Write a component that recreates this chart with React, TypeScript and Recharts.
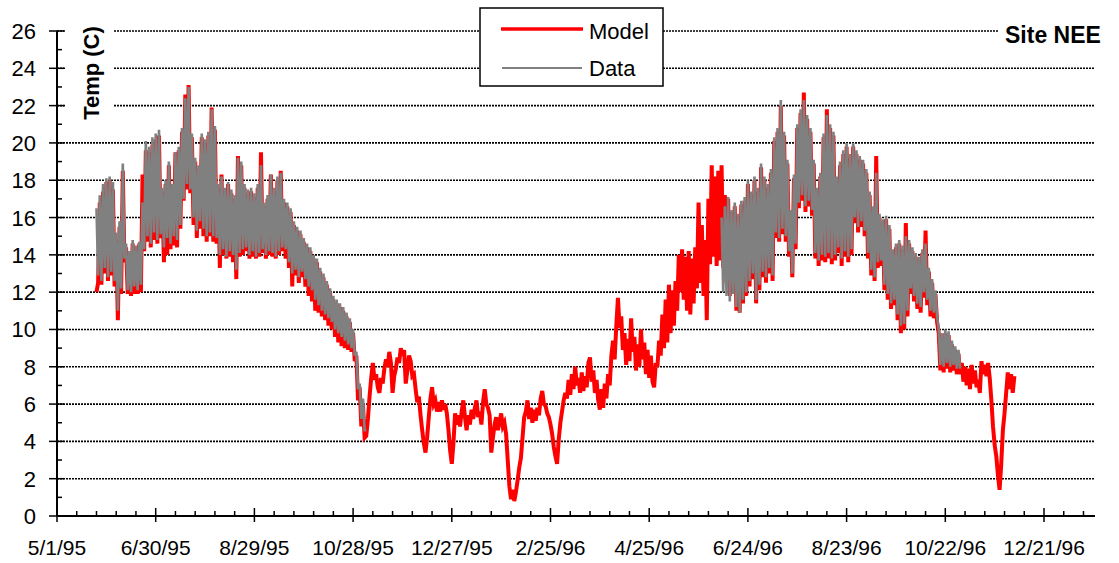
import { LineChart, Line, XAxis, YAxis, CartesianGrid } from 'recharts'

const FONT = "'Liberation Sans', Arial, sans-serif"

// x axis: days after 5/1/95
const dateLabels = ['5/1/95', '6/30/95', '8/29/95', '10/28/95', '12/27/95', '2/25/96', '4/25/96', '6/24/96', '8/23/96', '10/22/96', '12/21/96']
const labelDays = [0, 60, 120, 180, 240, 300, 360, 420, 480, 540, 600]
const tickDays = Array.from({ length: 53 }, (_, i) => i * 12)
const yTicks = Array.from({ length: 27 }, (_, i) => i)
const gridValues = [2, 4, 6, 8, 10, 12, 14, 16, 18, 20, 22, 24, 26]

// model, days 24..188
const model95Start = 24
const model95 = [
  12.0, 12.5, 16.8, 12.4, 17.4, 13.0, 17.9, 12.6, 18.0, 12.9, 17.5, 12.3,
  14.8, 10.5, 15.5, 11.9, 18.5, 13.6,
  14.4, 11.9, 14.0, 11.8, 14.6, 11.9, 14.4, 11.9, 14.6, 12.0,
  18.3, 14.2, 19.6, 14.7, 19.5, 14.4, 19.9, 14.8, 20.2, 14.6, 20.4, 14.9,
  17.4, 13.6, 17.8, 14.0, 18.8, 14.3, 17.7, 14.5, 19.5, 14.4, 19.6, 15.4,
  20.6, 16.9, 22.6, 17.5, 23.1, 17.3,
  20.3, 15.6, 19.0, 14.9, 18.6, 15.4, 20.3, 15.0, 20.0, 14.7,
  20.4, 15.0, 21.9, 14.7, 20.7, 14.6,
  17.6, 13.3, 18.3, 14.0, 17.4, 13.8, 17.8, 13.9, 17.3, 13.6, 17.0, 12.7,
  19.3, 13.9, 18.8, 14.0, 17.6, 14.2, 17.3, 13.8,
  17.4, 13.9, 17.1, 13.8, 17.6, 13.9, 19.5, 14.1,
  16.6, 13.8, 17.0, 14.0, 18.3, 13.9, 17.4, 13.8, 18.0, 14.0, 18.5, 14.2,
  16.8, 13.8, 16.6, 13.3, 16.3, 12.3,
  15.6, 12.9, 15.3, 12.5, 15.1, 12.8, 14.7, 12.3, 14.4, 11.8, 14.2, 11.5,
  13.8, 11.0, 13.6, 10.9, 13.1, 10.7, 12.8, 10.5, 12.4, 10.2, 12.0, 10.0,
  11.6, 9.6, 11.4, 9.3, 11.2, 9.1, 11.0, 9.0, 10.7, 8.9, 10.4, 8.8,
  9.8, 8.3, 8.6, 6.2, 6.9, 4.8, 6.0, 4.2, 4.3,
]

// model, days 189..403
const modelWinter = [
  5.2, 6.4, 7.4, 8.2, 7.3, 7.6, 6.9, 6.6, 7.4, 7.1,
  7.9, 8.4, 8.0, 8.8, 8.2, 6.6, 7.5, 7.9, 8.5, 8.2,
  9.0, 8.6, 8.9, 7.1, 7.8, 8.6, 8.3, 7.5, 7.6, 6.8,
  6.1, 6.4, 5.4, 4.6, 3.9, 3.4, 4.2, 5.3, 6.3, 6.9,
  6.0, 6.2, 5.6, 6.1, 5.6, 6.2, 5.7, 6.0, 5.5, 4.6,
  3.5, 2.8, 3.9, 5.5, 4.9, 5.4, 4.8, 5.6, 6.2, 5.3,
  4.6, 5.4, 4.9, 5.7, 5.2, 5.8, 6.2, 5.3, 5.6, 4.9,
  6.1, 6.8, 6.0, 5.8, 5.4, 3.4, 4.2, 4.9, 5.3, 4.6,
  5.0, 5.5, 4.8, 5.0, 4.4, 3.0, 1.6, 0.9, 1.4, 0.8,
  1.3, 1.9, 2.6, 3.1, 4.2, 5.3, 5.6, 6.2, 5.2, 5.8,
  5.0, 5.7, 5.1, 5.8, 5.4, 6.3, 6.7, 6.0, 5.9, 5.5,
  5.3, 4.9, 4.4, 3.7, 3.2, 2.8, 4.1, 5.0, 5.6, 6.2,
  6.6, 6.3, 7.3, 6.5, 7.6, 6.8, 8.0, 7.0, 7.4, 6.6,
  7.7, 6.7, 7.5, 6.9, 8.2, 8.5, 7.2, 7.8, 6.6, 7.3,
  6.2, 5.7, 6.8, 5.8, 7.1, 6.3, 7.6, 7.0, 8.6, 9.4,
  8.4, 10.2, 11.7, 10.1, 10.7, 8.9, 9.8, 8.1, 9.5, 8.3,
  10.6, 8.8, 9.6, 7.8, 9.2, 8.0, 10.0, 8.4, 9.3, 7.6,
  8.9, 7.4, 8.6, 7.2, 6.9, 8.2, 8.0, 9.4, 8.6, 10.8,
  9.0, 11.6, 9.3, 12.4, 9.8, 12.1, 10.2, 12.6, 11.0, 14.0,
  12.0, 14.3, 11.6, 13.9, 11.0, 14.2, 10.8, 13.8, 11.4, 14.4,
  12.2, 16.8, 12.5, 15.6, 11.8, 14.8, 10.5, 17.0, 13.5, 18.8,
  13.9, 18.2, 13.4, 18.5, 13.7,
]

// model, days 404..582
const model96 = [
  18.8, 13.3, 17.2, 12.5, 17.0, 11.8, 16.3, 12.0, 16.6, 11.0, 16.0, 10.9, 16.7, 11.4, 16.9, 11.8,
  17.8, 12.3, 17.2, 12.7, 18.0, 11.4, 17.4, 12.1,
  18.7, 12.8, 18.0, 12.5, 17.6, 13.0, 18.4, 12.6,
  20.1, 14.9, 20.6, 14.7, 22.0, 15.1, 20.4, 14.7,
  18.9, 13.9, 16.2, 12.8, 18.1, 14.3,
  20.8, 16.5, 21.6, 16.9, 22.7, 16.3, 21.3, 16.6, 20.6, 16.1,
  18.9, 13.8, 17.4, 13.4, 18.2, 13.7,
  20.3, 13.6, 21.8, 13.8, 20.8, 13.5, 20.4, 13.7,
  18.0, 14.1, 18.8, 13.4, 19.4, 13.9, 19.8, 13.6, 19.2, 14.0,
  19.8, 15.7, 19.4, 15.2, 19.1, 15.5, 18.9, 15.0,
  18.4, 13.8, 17.2, 12.9, 16.4, 12.6, 19.3, 13.3,
  16.0, 13.4, 15.7, 12.1, 15.9, 11.6, 15.4, 11.1,
  14.1, 11.3, 14.4, 10.5, 14.6, 9.8, 14.3, 10.0, 15.7, 10.7,
  14.6, 11.9, 14.2, 11.5, 13.9, 11.1, 13.7, 10.9, 14.1, 11.7,
  15.3, 11.3, 13.1, 10.7, 12.5, 10.6, 11.9, 10.4,
  9.8, 7.8, 9.6, 7.7, 9.8, 7.9,
  9.7, 7.7, 9.2, 7.8, 8.9, 7.6, 8.7, 7.6,
  8.2, 7.2, 8.0, 7.0, 7.9, 6.8, 8.1, 7.1, 7.8, 6.9, 7.3, 6.6,
  8.3, 7.6, 8.1, 7.5, 8.2, 7.4,
  6.2, 4.8, 3.8, 3.2, 2.2,
  1.4, 2.8, 4.6, 5.5, 6.6,
  7.7, 6.8, 7.6, 6.6, 7.5,
]

// measured data, days 24..188
const data95Start = 24
const data95 = [
  16.5, 12.9, 17.2, 12.6, 17.8, 13.3, 18.1, 12.8, 18.2, 13.1, 17.9, 12.6,
  15.2, 11.0, 15.8, 12.2, 18.9, 13.8,
  14.6, 12.1, 14.2, 12.0, 14.8, 12.3, 14.5, 12.1, 14.7, 12.4,
  16.8, 14.3, 20.1, 15.0, 19.8, 14.6, 20.3, 15.2, 20.5, 14.8, 20.7, 15.1,
  17.6, 14.4, 18.0, 14.9, 19.0, 14.6, 17.8, 15.0, 19.5, 14.8, 19.8, 15.6,
  20.8, 17.0, 22.4, 17.8, 23.0, 17.5,
  20.5, 16.0, 19.2, 15.3, 18.8, 15.8, 20.5, 15.4, 20.2, 15.0,
  20.6, 15.2, 21.8, 15.0, 20.9, 14.9,
  17.8, 14.0, 18.2, 14.3, 17.6, 13.9, 17.9, 14.2, 17.5, 14.0, 17.2, 13.2,
  19.2, 14.1, 19.0, 14.3, 17.8, 14.4, 17.5, 14.0,
  17.6, 14.2, 17.3, 13.9, 17.8, 14.1, 18.8, 14.3,
  16.8, 14.0, 17.2, 14.2, 18.3, 14.1, 17.6, 13.9, 18.2, 14.2, 18.4, 14.4,
  17.0, 14.3, 16.8, 13.6, 16.5, 13.0,
  15.8, 13.2, 15.5, 12.8, 15.3, 13.1, 14.9, 12.7, 14.6, 12.3, 14.4, 12.1,
  14.0, 11.6, 13.8, 11.3, 13.3, 11.0, 13.0, 10.8, 12.6, 10.6, 12.2, 10.4,
  11.8, 10.0, 11.6, 9.8, 11.4, 9.6, 11.2, 9.4, 10.9, 9.2, 10.6, 9.0,
  10.0, 8.6, 8.8, 6.8, 7.1, 5.2, 6.3, 4.6, 4.6,
]

// measured data, days 404..549
const data96Start = 404
const data96 = [
  16.0, 12.0, 16.6, 11.8, 17.1, 11.5, 16.4, 11.9, 16.8, 11.2, 16.2, 10.9, 16.9, 11.6, 17.1, 12.0,
  18.0, 12.6, 17.4, 13.0, 18.2, 11.6, 17.6, 12.4,
  18.9, 13.1, 18.2, 12.8, 17.8, 13.3, 18.6, 12.9,
  20.3, 15.2, 20.8, 14.9, 22.3, 15.4, 20.6, 15.0,
  19.1, 14.2, 16.4, 13.0, 18.3, 14.6,
  21.0, 16.8, 21.8, 17.2, 22.3, 16.6, 21.5, 16.9, 20.8, 16.4,
  19.1, 14.1, 17.6, 13.7, 18.4, 14.0,
  20.5, 13.9, 21.5, 14.1, 21.0, 13.8, 20.6, 14.0,
  18.2, 14.4, 19.0, 13.8, 19.6, 14.2, 20.0, 13.9, 19.4, 14.3,
  20.0, 16.0, 19.6, 15.5, 19.3, 15.8, 19.1, 15.3,
  18.6, 14.1, 17.4, 13.2, 16.6, 12.8, 18.4, 13.6,
  16.2, 13.7, 15.9, 12.4, 16.1, 11.9, 15.6, 11.4,
  14.3, 11.6, 14.6, 10.8, 14.8, 10.2, 14.5, 10.3, 15.0, 11.0,
  14.8, 12.2, 14.4, 11.8, 14.1, 11.4, 13.9, 11.2, 14.3, 12.0,
  14.6, 11.6, 13.3, 11.0, 12.7, 10.9, 12.1, 10.7,
  10.0, 8.1, 9.8, 8.0, 10.0, 8.2,
  9.9, 8.0, 9.4, 8.1, 9.1, 7.9, 8.9, 7.9,
]

const modelAll = [...model95, ...modelWinter, ...model96]

const rows = modelAll.map((m, i) => {
  const day = model95Start + i
  const a = day - data95Start
  const b = day - data96Start
  let d: number | null = null
  if (a >= 0 && a < data95.length) d = data95[a]
  else if (b >= 0 && b < data96.length) d = data96[b]
  return { day, model: m, data: d }
})

function XTick({ x, y, payload }: any) {
  const idx = labelDays.indexOf(payload.value)
  const major = idx >= 0
  return (
    <g>
      <line x1={x} x2={x} y1={major ? y - 8 : y - 5} y2={major ? y + 6 : y} stroke="#000" strokeWidth={1.5} />
      {major && (
        <text x={x} y={y + 39} textAnchor="middle" fontSize={21} fontFamily={FONT} fill="#000">
          {dateLabels[idx]}
        </text>
      )}
    </g>
  )
}

function YTick({ x, y, payload }: any) {
  const major = payload.value % 2 === 0
  return (
    <g>
      <line x1={major ? x - 8 : x} x2={major ? x + 7 : x + 5} y1={y} y2={y} stroke="#000" strokeWidth={1.5} />
      {major && (
        <text x={x - 21} y={y + 8} textAnchor="end" fontSize={22} fontFamily={FONT} fill="#000">
          {payload.value}
        </text>
      )}
    </g>
  )
}

export default function App() {
  return (
    <div style={{ position: 'absolute', left: 0, top: 0, width: 1119, height: 563, background: '#fff' }}>
      <LineChart width={1119} height={563} data={rows} margin={{ top: 31, right: 24, bottom: 0, left: 0 }}>
        <CartesianGrid horizontal vertical={false} horizontalValues={gridValues} stroke="#000" strokeWidth={1.6} strokeDasharray="2 1" />
        <XAxis
          dataKey="day"
          type="number"
          domain={[0, 631]}
          ticks={tickDays}
          interval={0}
          height={47}
          tickSize={0}
          tickMargin={0}
          tickLine={false}
          axisLine={{ stroke: '#000', strokeWidth: 2 }}
          tick={<XTick />}
        />
        <YAxis
          type="number"
          domain={[0, 26]}
          ticks={yTicks}
          interval={0}
          width={57}
          tickSize={0}
          tickMargin={0}
          tickLine={false}
          axisLine={{ stroke: '#000', strokeWidth: 2 }}
          tick={<YTick />}
        />
        <Line type="linear" dataKey="model" stroke="#ff0000" strokeWidth={4} dot={false} activeDot={false} isAnimationActive={false} />
        <Line type="linear" dataKey="data" stroke="#808080" strokeWidth={2.6} dot={false} activeDot={false} isAnimationActive={false} />
      </LineChart>
      <svg width={1119} height={563} style={{ position: 'absolute', left: 0, top: 0, pointerEvents: 'none' }}>
        <rect x={66} y={18} width={48} height={112} fill="#fff" />
        <text x={91} y={73} transform="rotate(-90 91 73)" textAnchor="middle" dominantBaseline="central" fontSize={22} fontWeight="bold" fontFamily={FONT}>
          Temp (C)
        </text>
        <rect x={998} y={18} width={121} height={28} fill="#fff" />
        <text x={1005} y={43} fontSize={23} fontWeight="bold" fontFamily={FONT}>
          Site NEE
        </text>
        <rect x={480} y={8} width={183} height={78} fill="#fff" stroke="#000" strokeWidth={1.5} />
        <line x1={501} x2={583} y1={29} y2={29} stroke="#ff0000" strokeWidth={3.5} />
        <text x={589} y={39} fontSize={22} fontFamily={FONT}>Model</text>
        <line x1={502} x2={582} y1={68} y2={68} stroke="#808080" strokeWidth={1.8} />
        <text x={589} y={76} fontSize={22} fontFamily={FONT}>Data</text>
      </svg>
    </div>
  )
}
